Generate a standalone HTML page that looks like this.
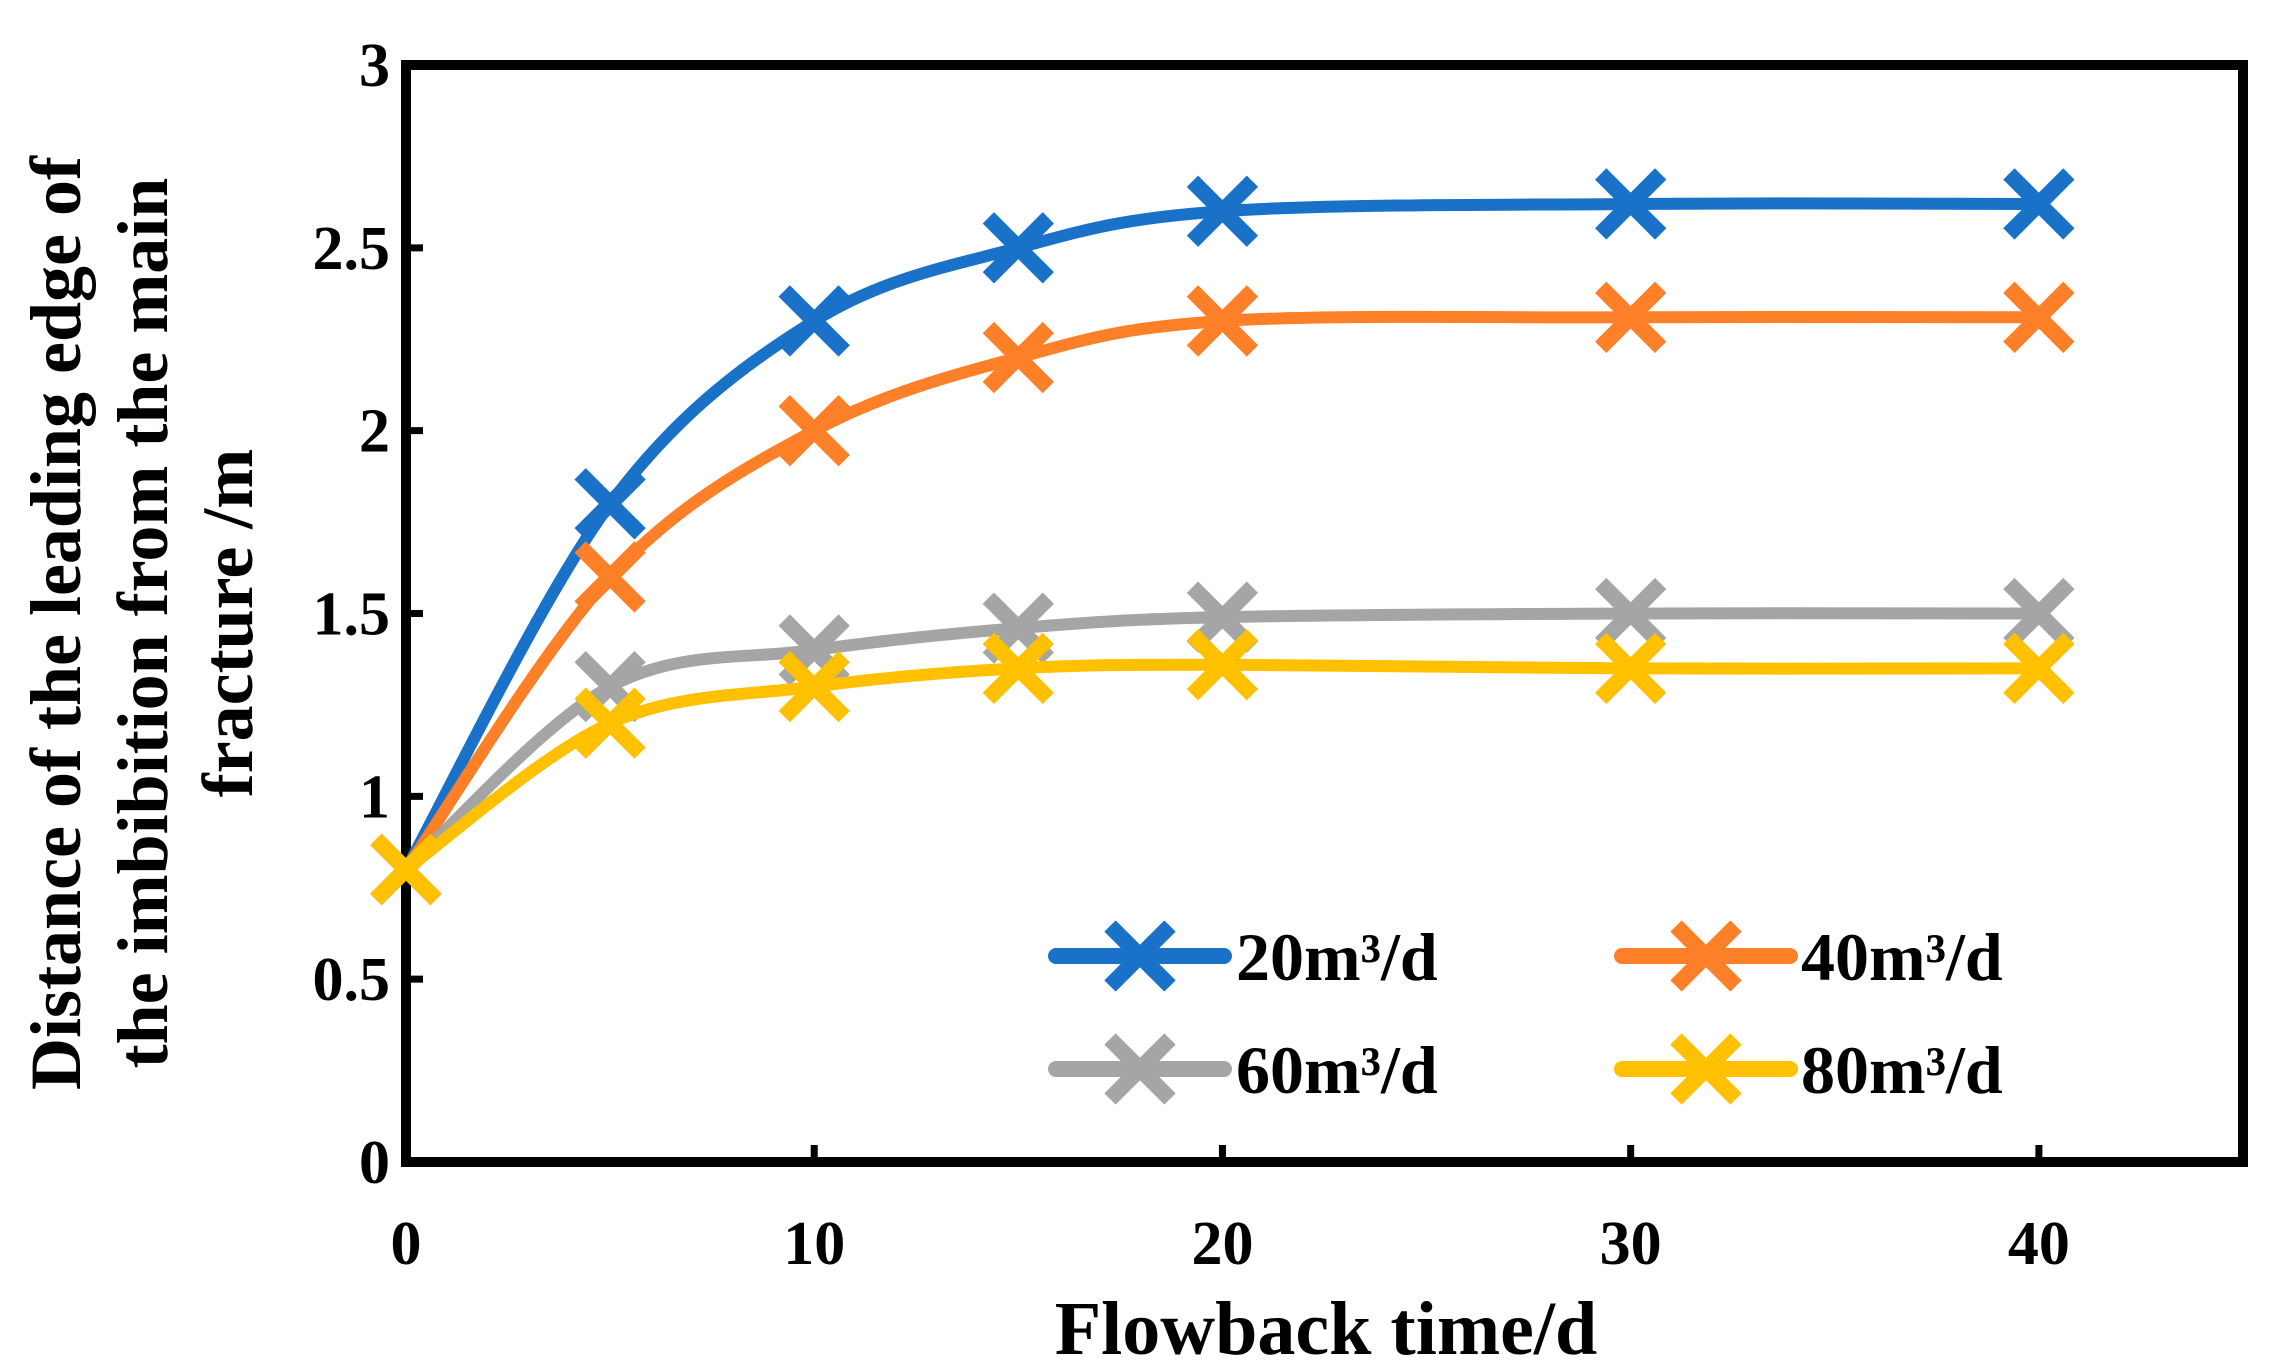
<!DOCTYPE html>
<html><head><meta charset="utf-8"><style>
html,body{margin:0;padding:0;background:#fff;}
svg{display:block;}
text{font-family:"Liberation Serif",serif;font-weight:bold;fill:#000;}
</style></head><body>
<svg id="chart" width="2272" height="1369" viewBox="0 0 2272 1369">
<g id="plot"></g>
</svg>
<script>
const xValues=[0,5,10,15,20,30,40];
const series20=[0.8,1.8,2.3,2.5,2.6,2.62,2.62];
const series40=[0.8,1.6,2.0,2.2,2.3,2.31,2.31];
const series60=[0.8,1.3,1.4,1.46,1.49,1.5,1.5];
const series80=[0.8,1.2,1.3,1.35,1.36,1.35,1.35];
const seriesNames=["20m³/d","40m³/d","60m³/d","80m³/d"];
const xTicks=[0,10,20,30,40];
const yTicks=[0,0.5,1,1.5,2,2.5,3];
const yTickLabels=["0","0.5","1","1.5","2","2.5","3"];

const L=406,R=2243,T=65,B=1162,XMAX=45,YMAX=3;
const sx=v=>L+(R-L)*v/XMAX, sy=v=>B-(B-T)*v/YMAX;
const NS="http://www.w3.org/2000/svg";
const svg=document.getElementById('chart');
function mk(tag,attrs,parent){const e=document.createElementNS(NS,tag);for(const k in attrs)e.setAttribute(k,attrs[k]);(parent||svg).appendChild(e);return e;}

const frame=mk('rect',{x:L,y:T,width:R-L,height:B-T,fill:'none',stroke:'#000','stroke-width':10});



yTicks.forEach((v,i)=>{
  const t=mk('line',{x1:L,x2:L+17,y1:sy(v),y2:sy(v),stroke:'#000','stroke-width':7});
  
  
  const lb=mk('text',{x:390,y:sy(v)+21,'text-anchor':'end','font-size':62});
  lb.textContent=yTickLabels[i];
  
  
});
xTicks.forEach(v=>{
  const t=mk('line',{x1:sx(v),x2:sx(v),y1:B,y2:B-17,stroke:'#000','stroke-width':7});
  
  
  const lb=mk('text',{x:sx(v),y:1264,'text-anchor':'middle','font-size':62});
  lb.textContent=String(v);
  
  
});

const xt=mk('text',{x:1326,y:1354,'text-anchor':'middle','font-size':76});
xt.textContent='Flowback time/d';



const yLines=['Distance of the leading edge of','the imbibition from the main','fracture /m'];
const yX=[80,167,252];
yLines.forEach((s,i)=>{
  const t=mk('text',{x:0,y:0,'text-anchor':'middle','font-size':72,transform:`translate(${yX[i]},623) rotate(-90)`});
  t.textContent=s;
  
  
});

function smoothPath(pts){
  let d=`M${pts[0][0]},${pts[0][1]}`;
  for(let i=0;i<pts.length-1;i++){
    const p0=pts[i-1]||pts[i],p1=pts[i],p2=pts[i+1],p3=pts[i+2]||p2;
    const c1=[p1[0]+(p2[0]-p0[0])/6,p1[1]+(p2[1]-p0[1])/6];
    const c2=[p2[0]-(p3[0]-p1[0])/6,p2[1]-(p3[1]-p1[1])/6];
    d+=` C${c1[0]},${c1[1]} ${c2[0]},${c2[1]} ${p2[0]},${p2[1]}`;
  }
  return d;
}
function marker(x,y,c,g){
  const s=30;
  const m=mk('path',{d:`M${x-s},${y-s}L${x+s},${y+s}M${x-s},${y+s}L${x+s},${y-s}`,stroke:c,'stroke-width':16,fill:'none'},g);
  
  
}
const allSeries=[series20,series40,series60,series80];
const colors=['#1a72c8','#fd7f27','#a5a5a5','#ffc000'];
allSeries.forEach((ser,si)=>{
  const g=mk('g',{});
  
  
  const pts=xValues.map((x,i)=>[sx(x),sy(ser[i])]);
  const p=mk('path',{d:smoothPath(pts),stroke:colors[si],'stroke-width':12,fill:'none','stroke-linecap':'round'},g);
  
  
  pts.forEach(q=>marker(q[0],q[1],colors[si],g));
});

const legX=[1056,1622],legY=[956,1069],txtX=[1236,1801];
seriesNames.forEach((n,i)=>{
  const col=i%2,row=Math.floor(i/2);
  const g=mk('g',{});
  
  
  const l=mk('line',{x1:legX[col],x2:legX[col]+168,y1:legY[row],y2:legY[row],stroke:colors[i],'stroke-width':16,'stroke-linecap':'round'},g);
  
  
  marker(legX[col]+84,legY[row],colors[i],g);
  const t=mk('text',{x:txtX[col],y:legY[row]+24,'font-size':68},g);
  t.textContent=n;
  
  
});
</script>
</body></html>
